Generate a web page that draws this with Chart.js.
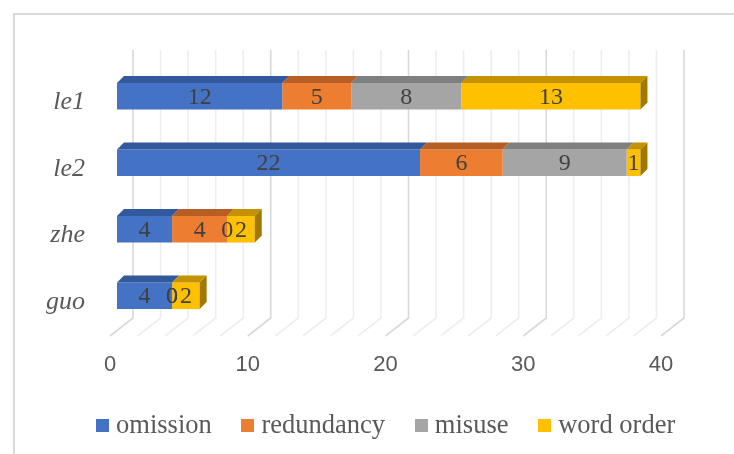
<!DOCTYPE html>
<html>
<head>
<meta charset="utf-8">
<script src="https://cdn.jsdelivr.net/npm/chart.js@4.4.0/dist/chart.umd.min.js"></script>
<style>
  html, body { margin: 0; padding: 0; background: #ffffff; overflow: hidden; }
  #wrap { position: relative; width: 734px; height: 454px; }
</style>
</head>
<body>
<div id="wrap"><canvas id="chart" width="734" height="454"></canvas></div>
<script>
// Error counts per particle, stacked by error type
const categories = ['le1', 'le2', 'zhe', 'guo'];
const seriesNames = ['omission', 'redundancy', 'misuse', 'word order'];
const omission   = [12, 22, 4, 4];
const redundancy = [5, 6, 4, 0];
const misuse     = [8, 9, 0, 0];
const wordOrder  = [13, 1, 2, 2];
const xTicks = [0, 10, 20, 30, 40];

const frontColors = ['#4472C4', '#ED7D31', '#A5A5A5', '#FFC000'];
const topColors   = ['#31599B', '#B65E23', '#7F7F7F', '#C39200'];
const sideColors  = ['#284A83', '#9E501D', '#6B6B6B', '#A27800'];

const seriesValues = [omission, redundancy, misuse, wordOrder];

// small square swatches for the legend
const swatches = frontColors.map(c => {
  const cv = document.createElement('canvas');
  cv.width = 13; cv.height = 13;
  const g = cv.getContext('2d');
  g.fillStyle = c; g.fillRect(0, 0, 13, 13);
  return cv;
});

const DEPTH = 7;       // extrusion of each bar (px)
const WALL_DX = 16;    // back wall offset from bar front faces
const FLOOR_DX = -7;   // front floor edge offset

const box3d = {
  id: 'box3d',
  beforeDatasetsDraw(chart) {
    const { ctx, chartArea, scales: { x } } = chart;
    ctx.save();
    // chart frame
    ctx.strokeStyle = '#d9d9d9';
    ctx.lineWidth = 2;
    ctx.beginPath();
    ctx.moveTo(14, chart.height + 4);
    ctx.lineTo(14, 14);
    ctx.lineTo(chart.width + 4, 14);
    ctx.stroke();

    // back wall grid and floor
    const wallTop = chartArea.top - 13;
    const floorBack = chartArea.bottom - 11;
    const floorFront = chartArea.bottom + 7;
    for (let v = x.min; v <= x.max + 1e-9; v += 2) {
      const px = x.getPixelForValue(v);
      const major = xTicks.includes(v);
      ctx.strokeStyle = major ? '#d9d9d9' : '#eeeeee';
      ctx.lineWidth = 1.6;
      ctx.beginPath();
      ctx.moveTo(px + WALL_DX, wallTop);
      ctx.lineTo(px + WALL_DX, floorBack);
      ctx.lineTo(px + FLOOR_DX, floorFront);
      ctx.stroke();
    }
    ctx.restore();
  },
  afterDatasetsDraw(chart) {
    const { ctx } = chart;
    const metas = chart.getSortedVisibleDatasetMetas();
    ctx.save();
    chart.data.labels.forEach((_, row) => {
      let last = null;
      metas.forEach(meta => {
        const bar = meta.data[row];
        const p = bar.getProps(['x', 'base', 'y', 'height'], true);
        const left = Math.min(p.x, p.base), right = Math.max(p.x, p.base);
        if (right - left < 0.5) return;
        const top = p.y - p.height / 2;
        ctx.fillStyle = topColors[meta.index];
        ctx.beginPath();
        ctx.moveTo(left, top);
        ctx.lineTo(right, top);
        ctx.lineTo(right + DEPTH, top - DEPTH);
        ctx.lineTo(left + DEPTH, top - DEPTH);
        ctx.closePath();
        ctx.fill();
        last = { idx: meta.index, right, top, bottom: top + p.height };
      });
      if (last) {
        ctx.fillStyle = sideColors[last.idx];
        ctx.beginPath();
        ctx.moveTo(last.right, last.top);
        ctx.lineTo(last.right + DEPTH, last.top - DEPTH);
        ctx.lineTo(last.right + DEPTH, last.bottom - DEPTH);
        ctx.lineTo(last.right, last.bottom);
        ctx.closePath();
        ctx.fill();
      }
    });

    // value labels
    ctx.font = '24px "Liberation Serif"';
    ctx.fillStyle = '#404040';
    ctx.textAlign = 'center';
    ctx.textBaseline = 'middle';
    metas.forEach(meta => {
      const values = chart.data.datasets[meta.index].data;
      meta.data.forEach((bar, row) => {
        const p = bar.getProps(['x', 'base', 'y'], true);
        ctx.fillText(String(values[row]), (p.x + p.base) / 2, p.y + 1);
      });
    });
    ctx.restore();
  }
};

new Chart(document.getElementById('chart'), {
  type: 'bar',
  data: {
    labels: categories,
    datasets: seriesNames.map((name, i) => ({
      label: name,
      data: seriesValues[i],
      backgroundColor: frontColors[i],
      borderWidth: 0
    }))
  },
  options: {
    indexAxis: 'y',
    responsive: false,
    animation: false,
    events: [],
    layout: { padding: { left: 43, right: 0, top: 63, bottom: 5 } },
    datasets: { bar: { categoryPercentage: 1, barPercentage: 0.4 } },
    scales: {
      x: {
        stacked: true,
        min: 0,
        max: 40,
        ticks: {
          stepSize: 10,
          color: '#595959',
          font: { family: 'Liberation Sans', size: 22 },
          labelOffset: FLOOR_DX,
          padding: 23,
          maxRotation: 0
        },
        grid: { display: false, drawTicks: false },
        border: { display: false },
        afterFit(s) { s.height = 48; }
      },
      y: {
        stacked: true,
        ticks: {
          color: '#595959',
          font: { family: 'Liberation Serif', size: 26, style: 'italic' },
          padding: 32,
          labelOffset: 6
        },
        grid: { display: false, drawTicks: false },
        border: { display: false },
        afterFit(s) { s.width = 74; }
      },
      yRight: {
        type: 'category',
        position: 'right',
        display: true,
        ticks: { display: false },
        grid: { display: false, drawTicks: false },
        border: { display: false },
        afterFit(s) { s.width = 66; }
      }
    },
    plugins: {
      legend: {
        position: 'bottom',
        labels: {
          usePointStyle: true,
          boxWidth: 1,
          color: '#595959',
          font: { family: 'Liberation Serif', size: 26.5 },
          padding: 35.5,
          generateLabels(chart) {
            const items = Chart.defaults.plugins.legend.labels.generateLabels(chart);
            items.forEach((it, i) => { it.pointStyle = swatches[i]; });
            return items;
          }
        }
      },
      tooltip: { enabled: false }
    }
  },
  plugins: [box3d]
});
</script>
</body>
</html>
